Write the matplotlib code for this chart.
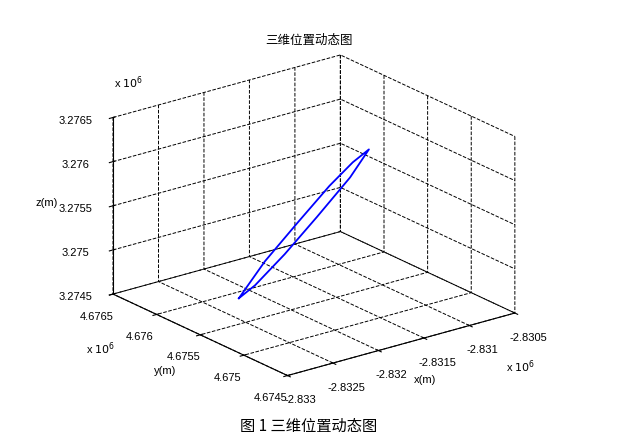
import matplotlib.pyplot as plt
import numpy as np

plt.rcParams['font.family'] = ['Liberation Sans', 'Noto Sans CJK SC', 'DejaVu Sans']

# orbit loop, units of 1e6 m
x = [-2.83223, -2.83204, -2.83180, -2.83156, -2.83139, -2.83127, -2.83141, -2.83165, -2.83189, -2.83211, -2.83223]
y = [4.67586, 4.67576, 4.67564, 4.67552, 4.67543, 4.67537, 4.67544, 4.67557, 4.67569, 4.67580, 4.67586]
z = [3.27453, 3.27494, 3.27536, 3.27577, 3.27603, 3.27617, 3.27586, 3.27542, 3.27501, 3.27467, 3.27453]

xticks = [-2.833, -2.8325, -2.832, -2.8315, -2.831, -2.8305]
yticks = [4.6745, 4.675, 4.6755, 4.676, 4.6765]
zticks = [3.2745, 3.275, 3.2755, 3.276, 3.2765]

fig = plt.figure(figsize=(6.17, 4.37), dpi=100)
ax = fig.add_axes([0.02, 0.035, 0.96, 0.92], projection='3d', proj_type='ortho')
ax.plot(x, y, z, color='#0000ff', lw=1.3)

ax.set_xlim(xticks[0], xticks[-1])
ax.set_ylim(yticks[0], yticks[-1])
ax.set_zlim(zticks[0], zticks[-1])
ax.set_xticks(xticks)
ax.set_yticks(yticks)
ax.set_zticks(zticks)
ax.set_xticklabels([f'{v:g}' for v in xticks], fontsize=8)
ax.set_yticklabels([f'{v:g}' for v in yticks], fontsize=8)
ax.set_zticklabels([f'{v:g}' for v in zticks], fontsize=8)
ax.tick_params(axis='z', pad=6)
ax.tick_params(axis='y', pad=3)
ax.set_xlabel('x(m)', fontsize=8, labelpad=0)
ax.set_ylabel('y(m)', fontsize=8, labelpad=2)
ax.set_zlabel('z(m)', fontsize=8, labelpad=4)
ax.view_init(elev=21, azim=-127.5)
ax.set_box_aspect((1, 1, 0.66), zoom=1.08)

for a in (ax.xaxis, ax.yaxis, ax.zaxis):
    a.set_pane_color((1, 1, 1, 0))
    a.pane.set_edgecolor('black')
    a._axinfo['grid'].update(color='black', linestyle='--', linewidth=0.7)
    a.line.set_color('black')

ax.set_title('三维位置动态图', fontsize=9, y=1.0, family=['Noto Sans CJK SC'])
fig.text(0.185, 0.80, r'x $10^6$', fontsize=8)
fig.text(0.14, 0.19, r'x $10^6$', fontsize=8)
fig.text(0.82, 0.15, r'x $10^6$', fontsize=8)
fig.text(0.5, 0.015, '图 1 三维位置动态图', fontsize=11, ha='center', family=['Noto Sans CJK SC'])

fig.savefig('out.png', dpi=100)
